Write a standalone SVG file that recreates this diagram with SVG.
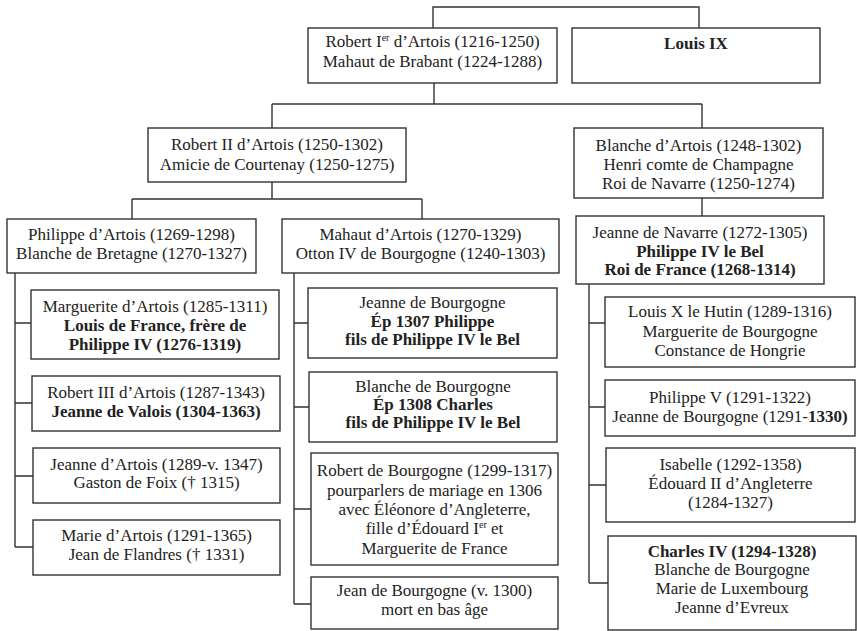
<svg xmlns="http://www.w3.org/2000/svg" width="857" height="631" viewBox="0 0 857 631">
<style>
.box{fill:#fff;stroke:#333;stroke-width:1.4}
.ln{fill:none;stroke:#333;stroke-width:1.4}
text{font-size:17px;fill:#222;text-anchor:middle}
.b{font-weight:bold}
.sup{font-size:10px}
</style>
<rect width="857" height="631" fill="#fff"/>
<g id="connectors">
<path class="ln" d="M433,28 V7 H699 V28"/>
<path class="ln" d="M434,83 V104 M272,104 H702 M272,104 V128 M702,104 V128"/>
<path class="ln" d="M272,182 V199 M132,199 H422 M132,199 V219 M422,199 V219"/>
<path class="ln" d="M702,198 V216"/>
<path class="ln" d="M15,273 V547 M15,323 H31 M15,403 H32 M15,476 H33 M15,547 H33"/>
<path class="ln" d="M294,273 V604 M294,323 H308 M294,407 H309 M294,509 H311 M294,604 H311"/>
<path class="ln" d="M589,284 V583 M589,323 H605 M589,407 H605 M589,485 H606 M589,583 H608"/>
</g>
<g font-family="Liberation Serif, Times New Roman, DejaVu Serif, serif">
<g id="robert1">
<rect class="box" x="308" y="28" width="249" height="55"/>
<text x="432.5" y="47">Robert I<tspan class="sup" dy="-6">er</tspan><tspan dy="6"> d’Artois (1216-1250)</tspan></text>
<text x="432.5" y="67">Mahaut de Brabant (1224-1288)</text>
</g>
<g id="louis9">
<rect class="box" x="572" y="28" width="248" height="55"/>
<text class="b" x="696" y="49">Louis IX</text>
</g>
<g id="robert2">
<rect class="box" x="148" y="128" width="258" height="54"/>
<text x="277" y="150">Robert II d’Artois (1250-1302)</text>
<text x="277" y="170">Amicie de Courtenay (1250-1275)</text>
</g>
<g id="blanche">
<rect class="box" x="574" y="128" width="249" height="70"/>
<text x="698.5" y="151">Blanche d’Artois (1248-1302)</text>
<text x="698.5" y="170">Henri comte de Champagne</text>
<text x="698.5" y="189">Roi de Navarre (1250-1274)</text>
</g>
<g id="philippe">
<rect class="box" x="7" y="219" width="249" height="54"/>
<text x="131.5" y="240">Philippe d’Artois (1269-1298)</text>
<text x="131.5" y="259">Blanche de Bretagne (1270-1327)</text>
</g>
<g id="mahaut">
<rect class="box" x="282" y="219" width="277" height="54"/>
<text x="420.5" y="240">Mahaut d’Artois (1270-1329)</text>
<text x="420.5" y="259">Otton IV de Bourgogne (1240-1303)</text>
</g>
<g id="jeanne-navarre">
<rect class="box" x="576" y="216" width="248" height="68"/>
<text x="700" y="238">Jeanne de Navarre (1272-1305)</text>
<text class="b" x="700" y="257">Philippe IV le Bel</text>
<text class="b" x="700" y="275">Roi de France (1268-1314)</text>
</g>
<g id="marguerite">
<rect class="box" x="31" y="290" width="248" height="69"/>
<text x="155" y="312">Marguerite d’Artois (1285-1311)</text>
<text class="b" x="155" y="331">Louis de France, frère de</text>
<text class="b" x="155" y="350">Philippe IV (1276-1319)</text>
</g>
<g id="robert3">
<rect class="box" x="32" y="376" width="248" height="55"/>
<text x="156" y="398">Robert III d’Artois (1287-1343)</text>
<text class="b" x="156" y="417">Jeanne de Valois (1304-1363)</text>
</g>
<g id="jeanne-artois">
<rect class="box" x="33" y="448" width="247" height="55"/>
<text x="156.5" y="470">Jeanne d’Artois (1289-v. 1347)</text>
<text x="156.5" y="488">Gaston de Foix († 1315)</text>
</g>
<g id="marie">
<rect class="box" x="33" y="520" width="247" height="55"/>
<text x="156.5" y="541">Marie d’Artois (1291-1365)</text>
<text x="156.5" y="560">Jean de Flandres († 1331)</text>
</g>
<g id="jeanne-bourgogne">
<rect class="box" x="308" y="288" width="249" height="70"/>
<text x="432.5" y="308">Jeanne de Bourgogne</text>
<text class="b" x="432.5" y="327">Ép 1307 Philippe</text>
<text class="b" x="432.5" y="345">fils de Philippe IV le Bel</text>
</g>
<g id="blanche-bourgogne">
<rect class="box" x="309" y="372" width="248" height="70"/>
<text x="433" y="392">Blanche de Bourgogne</text>
<text class="b" x="433" y="410">Ép 1308 Charles</text>
<text class="b" x="433" y="428">fils de Philippe IV le Bel</text>
</g>
<g id="robert-bourgogne">
<rect class="box" x="311" y="453" width="247" height="112"/>
<text x="434.5" y="476">Robert de Bourgogne (1299-1317)</text>
<text x="434.5" y="496">pourparlers de mariage en 1306</text>
<text x="434.5" y="515">avec Éléonore d’Angleterre,</text>
<text x="434.5" y="534">fille d’Édouard I<tspan class="sup" dy="-6">er</tspan><tspan dy="6"> et</tspan></text>
<text x="434.5" y="554">Marguerite de France</text>
</g>
<g id="jean-bourgogne">
<rect class="box" x="311" y="577" width="247" height="52"/>
<text x="434.5" y="596">Jean de Bourgogne (v. 1300)</text>
<text x="434.5" y="615">mort en bas âge</text>
</g>
<g id="louis10">
<rect class="box" x="605" y="297" width="250" height="70"/>
<text x="730" y="317">Louis X le Hutin (1289-1316)</text>
<text x="730" y="337">Marguerite de Bourgogne</text>
<text x="730" y="356">Constance de Hongrie</text>
</g>
<g id="philippe5">
<rect class="box" x="605" y="380" width="250" height="56"/>
<text x="730" y="403">Philippe V (1291-1322)</text>
<text x="730" y="422">Jeanne de Bourgogne (1291-<tspan class="b">1330)</tspan></text>
</g>
<g id="isabelle">
<rect class="box" x="606" y="448" width="249" height="74"/>
<text x="730.5" y="470">Isabelle (1292-1358)</text>
<text x="730.5" y="489">Édouard II d’Angleterre</text>
<text x="730.5" y="508">(1284-1327)</text>
</g>
<g id="charles4">
<rect class="box" x="608" y="536" width="248" height="94"/>
<text class="b" x="732" y="557">Charles IV (1294-1328)</text>
<text x="732" y="575">Blanche de Bourgogne</text>
<text x="732" y="594">Marie de Luxembourg</text>
<text x="732" y="613">Jeanne d’Evreux</text>
</g>
</g>
</svg>
